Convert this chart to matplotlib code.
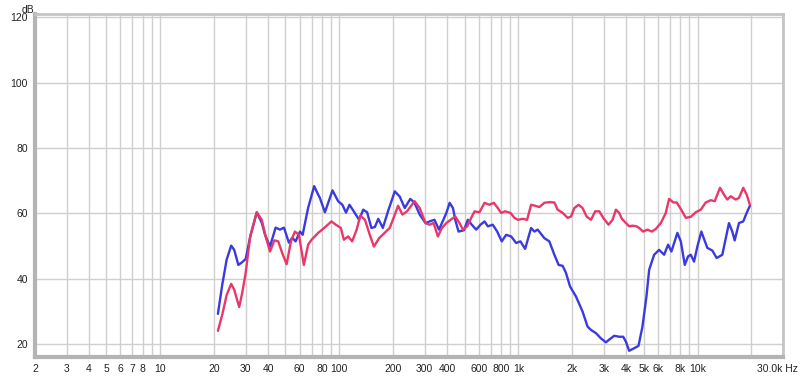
import numpy as np
import matplotlib
matplotlib.use("Agg")
import matplotlib.pyplot as plt

# frequency response, blue trace (Hz, dB)
freq_blue = [21.0, 22.2, 23.5, 24.9, 25.9, 27.3, 28.5, 30.0, 31.9, 34.6, 36.9, 38.5, 41.0,
             44.1, 46.6, 49.1, 52.3, 54.6, 57.0, 60.3, 62.4, 67.0, 72.4, 76.2, 77.9, 83.1,
             91.6, 98.5, 104, 109, 114, 122, 129, 136, 143, 151, 158, 165, 175, 187, 204,
             217, 232, 249, 263, 281, 303, 319, 340, 360, 374, 396, 413, 431, 444, 463,
             496, 522, 549, 581, 614, 647, 675, 719, 761, 807, 854, 911, 971, 1026, 1090,
             1177, 1228, 1281, 1395, 1488, 1587, 1677, 1766, 1844, 1941, 2096, 2281, 2433,
             2541, 2710, 2888, 3080, 3243, 3426, 3653, 3846, 3981, 4153, 4430, 4680, 4925,
             5185, 5369, 5724, 6103, 6508, 6850, 7146, 7719, 8062, 8487, 8853, 9165, 9561,
             9975, 10500, 11340, 12090, 12790, 13750, 14980, 15630, 16120, 17030, 18000,
             18800, 19610]
db_blue = [29.2, 38.1, 45.8, 50.1, 48.8, 44.2, 44.9, 46.0, 53.1, 60.3, 57.1, 53.4, 49.8,
           55.6, 55.0, 55.6, 51.0, 52.5, 51.4, 54.4, 53.4, 61.7, 68.3, 65.7, 64.7, 60.3,
           67.0, 63.7, 62.6, 60.2, 62.6, 60.1, 58.0, 61.1, 60.3, 55.5, 55.8, 58.3, 55.5,
           60.6, 66.7, 65.2, 61.6, 64.4, 63.2, 59.6, 57.0, 57.5, 58.0, 55.0, 57.0, 60.1,
           63.2, 61.6, 58.0, 54.4, 54.8, 58.0, 56.5, 55.0, 56.5, 57.5, 56.0, 56.5, 54.4,
           51.4, 53.4, 52.9, 50.9, 51.4, 49.1, 55.5, 54.4, 55.0, 52.4, 51.4, 47.3, 44.2,
           43.9, 41.7, 37.6, 34.5, 29.9, 25.3, 24.3, 23.3, 21.7, 20.5, 21.5, 22.5, 22.2,
           22.2, 20.7, 17.9, 18.7, 19.4, 25.3, 34.5, 42.7, 47.3, 48.8, 47.3, 50.4, 48.3,
           54.0, 51.4, 44.2, 46.8, 47.3, 45.2, 49.8, 54.4, 49.4, 48.6, 46.3, 47.3, 57.0,
           54.4, 51.7, 57.0, 57.5, 60.1, 62.3]

# frequency response, red trace (Hz, dB)
freq_red = [21.0, 22.2, 23.5, 24.9, 25.9, 27.6, 28.7, 30.0, 31.8, 34.6, 36.9, 38.8, 41.0,
            43.4, 45.6, 48.0, 50.8, 53.7, 56.5, 59.5, 63.4, 67.0, 70.0, 76.2, 82.3, 90.4,
            95.6, 102, 106, 112, 118, 125, 131, 139, 148, 156, 167, 179, 191, 201, 213,
            225, 239, 263, 281, 303, 319, 336, 355, 374, 396, 418, 444, 469, 490, 518,
            545, 569, 606, 647, 689, 729, 767, 801, 843, 903, 950, 991, 1057, 1118, 1177,
            1239, 1309, 1395, 1488, 1587, 1656, 1766, 1883, 1966, 2051, 2167, 2281, 2402,
            2541, 2685, 2827, 2975, 3185, 3353, 3502, 3653, 3781, 3981, 4153, 4335, 4563,
            4723, 4972, 5252, 5556, 5849, 6237, 6648, 6938, 7333, 7657, 8062, 8600, 9165,
            9772, 10420, 11110, 11840, 12470, 13350, 14050, 14660, 15310, 16330, 17030,
            18000, 18800, 19610]
db_red = [24.0, 28.9, 35.0, 38.4, 36.6, 31.3, 35.6, 41.7, 52.9, 60.3, 58.0, 52.9, 48.3,
          51.7, 51.4, 47.8, 44.4, 51.4, 54.4, 53.4, 44.2, 50.4, 51.9, 54.0, 55.5, 57.5,
          56.5, 55.5, 51.9, 52.9, 51.4, 55.0, 59.3, 58.0, 53.4, 49.8, 52.4, 54.0, 55.5,
          58.6, 62.3, 59.6, 60.6, 63.7, 61.6, 57.0, 56.5, 57.0, 52.9, 55.5, 57.0, 58.0,
          59.0, 57.0, 55.0, 56.0, 58.6, 60.6, 60.3, 63.2, 62.6, 63.2, 61.6, 60.1, 60.6,
          60.1, 58.6, 58.0, 58.3, 58.0, 62.6, 62.3, 61.9, 63.2, 63.4, 63.3, 61.1, 60.1,
          58.6, 59.0, 61.6, 62.6, 61.6, 59.0, 58.0, 60.6, 60.6, 58.6, 56.5, 58.0, 61.1,
          60.1, 58.3, 57.0, 56.0, 56.2, 56.0, 55.5, 54.4, 55.0, 54.4, 55.2, 57.0, 60.1,
          64.4, 63.3, 63.3, 61.3, 58.6, 58.9, 60.3, 61.1, 63.3, 64.0, 63.7, 67.8, 65.7,
          64.2, 65.2, 64.2, 64.7, 67.8, 65.7, 62.6]

x_ticks = [2, 3, 4, 5, 6, 7, 8, 10, 20, 30, 40, 60, 80, 100, 200, 300, 400, 600, 800,
           1000, 2000, 3000, 4000, 5000, 6000, 8000, 10000]
x_labels = ["2", "3", "4", "5", "6", "7", "8", "10", "20", "30", "40", "60", "80", "100",
            "200", "300", "400", "600", "800", "1k", "2k", "3k", "4k", "5k", "6k", "8k", "10k"]
y_ticks = [20, 40, 60, 80, 100, 120]

plt.rcParams['font.family'] = ['Liberation Sans', 'DejaVu Sans']

fig = plt.figure(figsize=(8, 3.76), dpi=100)
ax = fig.add_axes([0.04375, 0.0505, 0.935, 0.9123])

# vertical grid at every 1..9 x decade
grid_x = [m * 10 ** d for d in range(0, 5) for m in range(1, 10)]
grid_x = [g for g in grid_x if 2 <= g <= 30000]
for g in grid_x:
    ax.axvline(g, color='#cfcfcf', lw=1, zorder=0)
for g in y_ticks:
    ax.axhline(g, color='#cfcfcf', lw=1, zorder=0)

ax.plot(freq_blue, db_blue, color='#3a3ae0', lw=1.7, zorder=2,
        solid_joinstyle='round', solid_capstyle='round')
ax.plot(freq_red, db_red, color='#e8386a', lw=1.7, zorder=3,
        solid_joinstyle='round', solid_capstyle='round')

ax.set_xscale('log')
ax.set_xlim(2, 30000)
ax.set_ylim(16, 121)
ax.set_xticks(x_ticks)
ax.set_xticklabels(x_labels)
ax.set_xticks([], minor=True)
ax.set_yticks(y_ticks)
ax.tick_params(length=0, labelsize=7.5, colors='#222222', pad=5)

for side in ['left', 'bottom']:
    ax.spines[side].set_color('#b4b4b4')
    ax.spines[side].set_linewidth(3)
for side in ['top', 'right']:
    ax.spines[side].set_color('#c4c4c4')
    ax.spines[side].set_linewidth(2)

fig.text(0.0265, 0.988, "dB", fontsize=7.5, ha='left', va='top', color='#222222')
fig.text(0.997, 0.018, "30.0k Hz", fontsize=7.5, ha='right', va='center', color='#222222')

fig.savefig("out.png", dpi=100, facecolor='white')
